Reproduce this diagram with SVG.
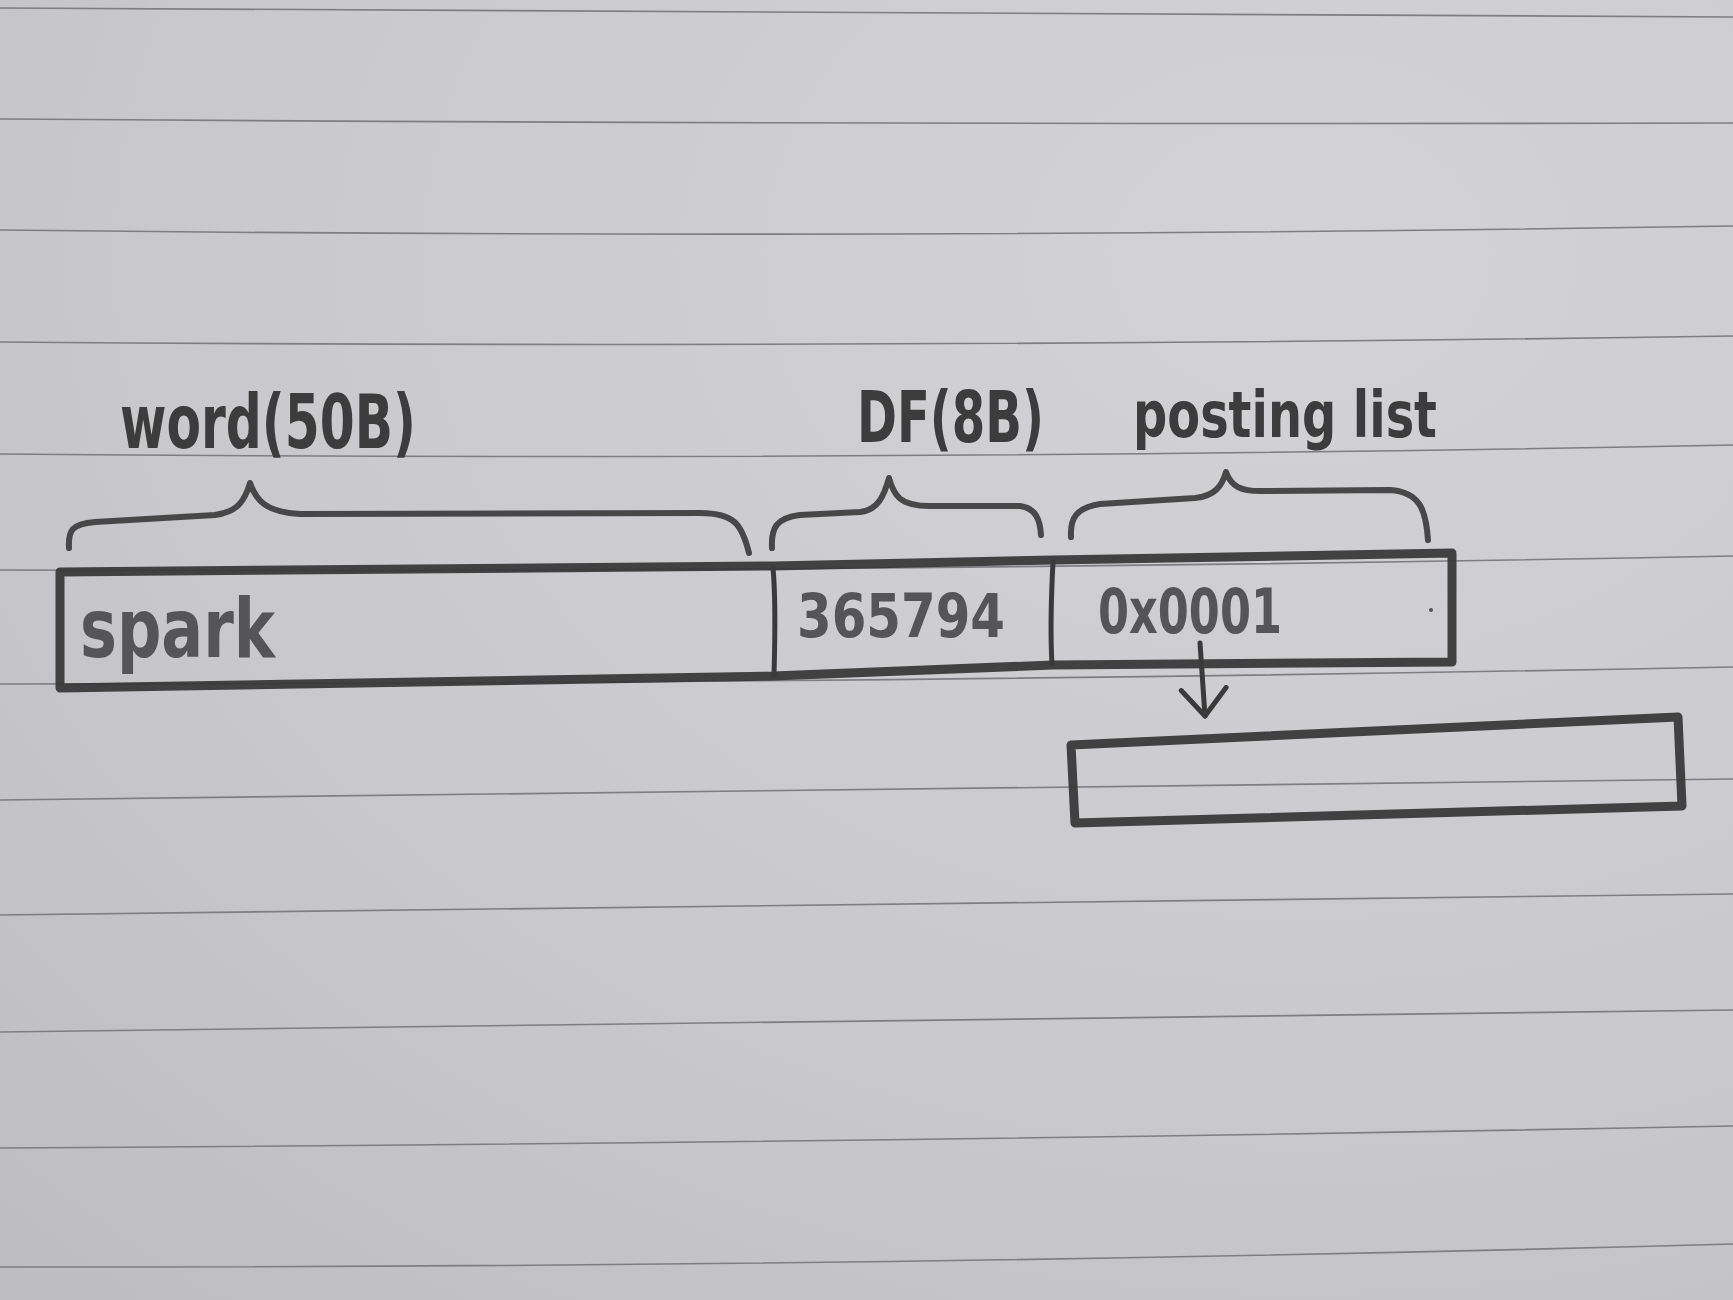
<svg xmlns="http://www.w3.org/2000/svg" width="1733" height="1300" viewBox="0 0 1733 1300">
  <defs>
    <radialGradient id="paper" cx="0.75" cy="0.2" r="1.1">
      <stop offset="0" stop-color="#d3d3d5"/>
      <stop offset="0.6" stop-color="#c9c9cb"/>
      <stop offset="1" stop-color="#bdbdbf"/>
    </radialGradient>
    <marker id="vhead" markerUnits="userSpaceOnUse" viewBox="-30 -30 40 60" markerWidth="40" markerHeight="60" refX="0" refY="0" orient="auto">
      <path d="M-27,-23 L0,0 L-27,22" fill="none" stroke="#3a3a3a" stroke-width="5" stroke-linecap="round" stroke-linejoin="round"/>
    </marker>
    <style>
      .rule { fill: none; stroke: #7e7e82; stroke-width: 1.6; }
      .box { fill: none; stroke: #353535; stroke-width: 9; stroke-linejoin: round; stroke-linecap: round; opacity: 0.92; }
      .div { fill: none; stroke: #3a3a3a; stroke-width: 5; stroke-linecap: round; }
      .brace { fill: none; stroke: #383838; stroke-width: 6; stroke-linecap: round; stroke-linejoin: round; opacity: 0.9; }
      .label { font-family: "DejaVu Sans Condensed", "DejaVu Sans", sans-serif; font-weight: bold; fill: #3c3c3c; }
      .value { font-family: "DejaVu Sans Condensed", "DejaVu Sans", sans-serif; font-weight: bold; fill: #555557; }
      .conn { fill: none; stroke: #3a3a3a; stroke-width: 5; stroke-linecap: round; }
    </style>
  </defs>

  <rect x="0" y="0" width="1733" height="1300" fill="url(#paper)"/>

  <g id="ruled-lines">
    <path class="rule" d="M0,8 Q866,11.5 1733,17"/>
    <path class="rule" d="M0,119 Q866,125 1733,123"/>
    <path class="rule" d="M0,230 Q866,240 1733,226"/>
    <path class="rule" d="M0,342 Q866,349 1733,336"/>
    <path class="rule" d="M0,454 Q866,462 1733,445"/>
    <path class="rule" d="M0,570 Q866,573 1733,556"/>
    <path class="rule" d="M0,684 Q866,684 1733,667"/>
    <path class="rule" d="M0,800 Q866,788 1733,779"/>
    <path class="rule" d="M0,915 Q866,903 1733,894"/>
    <path class="rule" d="M0,1032 Q866,1023 1733,1010"/>
    <path class="rule" d="M0,1148 Q866,1143 1733,1126"/>
    <path class="rule" d="M0,1267 Q866,1268 1733,1244"/>
  </g>

  <g id="field-labels">
    <g id="label-word">
      <text class="label" x="120" y="448" font-size="74" textLength="296" lengthAdjust="spacingAndGlyphs">word(50B)</text>
      <path class="brace" d="M69,548 C68,530 72,524 95,522 L215,515 C238,512 245,500 250,483 C256,500 265,512 300,514 L700,513 C735,513 742,525 749,553"/>
    </g>
    <g id="label-df">
      <text class="label" x="857" y="442" font-size="72" textLength="187" lengthAdjust="spacingAndGlyphs">DF(8B)</text>
      <path class="brace" d="M772,548 C771,528 776,518 800,515 L860,512 C878,510 884,496 889,478 C894,496 900,506 930,506 L1020,506 C1036,508 1040,520 1041,535"/>
    </g>
    <g id="label-posting">
      <text class="label" x="1133" y="437" font-size="64" textLength="304" lengthAdjust="spacingAndGlyphs">posting list</text>
      <path class="brace" d="M1071,537 C1070,518 1076,508 1100,504 L1195,498 C1215,496 1222,486 1226,472 C1231,486 1240,492 1265,491 L1390,490 C1420,492 1426,510 1428,540"/>
    </g>
  </g>

  <g id="record">
    <path class="box" d="M60,572 L773,566 L1053,560 L1452,553 L1452,662 L1053,665 L773,676 L60,688 Z"/>
    <g id="cell-word">
      <text class="value" x="80" y="657" font-size="82" textLength="195" lengthAdjust="spacingAndGlyphs">spark</text>
    </g>
    <g id="cell-df">
      <path class="div" d="M773,568 C776,600 775,640 774,675"/>
      <text class="value" x="797" y="637" font-size="60" textLength="208" lengthAdjust="spacingAndGlyphs">365794</text>
    </g>
    <g id="cell-posting">
      <path class="div" d="M1053,562 C1051,600 1050,630 1052,664"/>
      <text class="value" x="1098" y="633" font-size="62" textLength="184" lengthAdjust="spacingAndGlyphs">0x0001</text>
      <circle cx="1431" cy="610" r="2" fill="#555"/>
    </g>
  </g>

  <g id="posting-list-block">
    <path class="box" d="M1071,745 L1678,717 L1682,806 L1075,823 Z"/>
  </g>

  <g id="connectors">
    <path class="conn" d="M1200,643 L1205,716" marker-end="url(#vhead)"/>
  </g>
</svg>
